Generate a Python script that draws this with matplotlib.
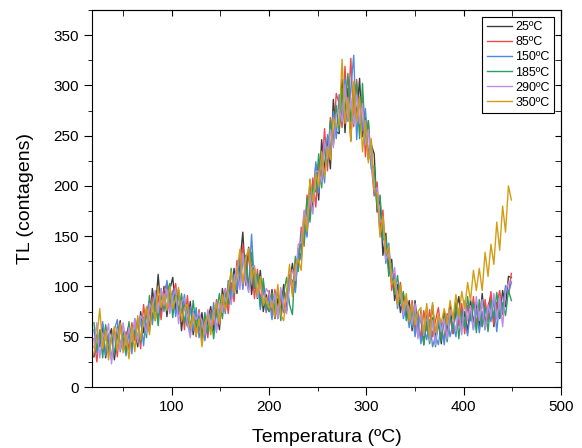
import numpy as np
import matplotlib
matplotlib.use("Agg")
import matplotlib.pyplot as plt
from matplotlib.ticker import MultipleLocator

plt.rcParams['font.family'] = ['Liberation Sans', 'DejaVu Sans']

# temperature axis (3 C steps, 20..449)
temperatura = np.arange(20, 450, 3)

labels = ["25ºC", "85ºC", "150ºC", "185ºC", "290ºC", "350ºC"]
colors = ["#3c3c3c", "#f04848", "#5089e2", "#2a9e5c", "#bb8cea", "#d49c12"]

tl_25 = [30, 52, 40, 62, 29, 48, 58, 27, 51, 66, 37, 50,
         62, 39, 56, 40, 75, 54, 75, 55, 98, 75, 112, 73,
         100, 70, 97, 109, 77, 96, 56, 85, 61, 85, 52, 71,
         56, 74, 49, 66, 80, 56, 77, 57, 98, 78, 101, 85,
         118, 93, 124, 154, 104, 139, 92, 118, 88, 116, 75, 92,
         75, 97, 68, 88, 75, 102, 76, 103, 123, 97, 136, 129,
         173, 152, 206, 178, 221, 186, 246, 215, 248, 217, 286, 254,
         252, 306, 253, 297, 245, 302, 267, 307, 249, 268, 226, 241,
         232, 174, 188, 131, 153, 116, 127, 86, 102, 74, 92, 70,
         86, 56, 86, 57, 70, 42, 77, 55, 82, 48, 64, 43,
         75, 55, 83, 53, 76, 90, 58, 75, 54, 87, 63, 84,
         60, 93, 63, 79, 92, 60, 84, 68, 96, 80, 110, 109]
tl_85 = [48, 25, 57, 36, 60, 33, 48, 55, 30, 64, 40, 55,
         37, 64, 46, 65, 38, 82, 57, 74, 89, 66, 91, 67,
         96, 103, 76, 93, 103, 72, 90, 57, 91, 59, 75, 50,
         77, 52, 69, 49, 76, 62, 87, 62, 83, 98, 73, 104,
         85, 126, 101, 142, 101, 134, 119, 88, 117, 86, 103, 74,
         96, 74, 97, 68, 90, 74, 94, 112, 93, 127, 118, 159,
         140, 191, 170, 208, 179, 223, 210, 257, 215, 268, 241, 292,
         282, 258, 319, 270, 327, 259, 306, 256, 288, 229, 265, 223,
         190, 204, 158, 176, 129, 137, 96, 113, 84, 104, 77, 88,
         65, 86, 56, 74, 46, 76, 56, 77, 50, 66, 79, 53,
         49, 73, 68, 54, 84, 61, 83, 53, 81, 66, 90, 62,
         81, 60, 87, 65, 95, 62, 82, 96, 72, 98, 93, 113]
tl_150 = [57, 34, 48, 65, 31, 53, 27, 57, 67, 35, 49, 31,
          55, 33, 68, 47, 69, 41, 74, 86, 62, 84, 67, 98,
          75, 106, 82, 96, 70, 93, 73, 92, 60, 80, 56, 79,
          49, 67, 46, 74, 56, 84, 57, 76, 90, 73, 106, 88,
          112, 96, 130, 97, 122, 100, 152, 100, 111, 77, 98, 76,
          90, 67, 91, 71, 94, 78, 76, 109, 106, 94, 138, 126,
          164, 149, 194, 184, 224, 193, 228, 203, 251, 235, 274, 247,
          291, 267, 307, 264, 297, 330, 246, 289, 255, 277, 232, 244,
          193, 195, 152, 164, 123, 143, 105, 110, 78, 98, 68, 81,
          59, 77, 50, 70, 43, 60, 47, 67, 40, 51, 42, 64,
          42, 69, 50, 63, 50, 78, 58, 68, 51, 75, 57, 78,
          54, 75, 57, 79, 65, 87, 55, 87, 75, 101, 93, 104]
tl_185 = [64, 37, 56, 29, 62, 36, 51, 32, 60, 41, 56, 34,
          65, 40, 54, 68, 44, 69, 49, 91, 68, 90, 61, 93,
          78, 94, 103, 69, 97, 75, 93, 64, 78, 54, 86, 59,
          71, 46, 74, 54, 74, 48, 75, 93, 68, 94, 82, 118,
          91, 120, 105, 124, 131, 97, 134, 98, 113, 80, 108, 80,
          75, 94, 75, 98, 66, 93, 109, 82, 72, 130, 115, 153,
          143, 188, 164, 199, 194, 232, 198, 239, 224, 265, 241, 280,
          255, 297, 271, 312, 264, 289, 303, 247, 302, 244, 265, 217,
          220, 177, 191, 146, 150, 110, 123, 92, 111, 83, 95, 66,
          80, 59, 77, 51, 76, 42, 65, 43, 69, 40, 66, 46,
          71, 45, 71, 57, 83, 48, 76, 59, 90, 66, 84, 54,
          87, 60, 81, 55, 86, 69, 94, 69, 84, 71, 96, 86]
tl_290 = [39, 64, 29, 53, 46, 63, 23, 51, 58, 37, 64, 42,
          59, 45, 68, 44, 71, 66, 53, 83, 77, 96, 74, 97,
          81, 97, 73, 90, 97, 63, 85, 88, 64, 49, 74, 67,
          74, 65, 52, 77, 61, 75, 54, 84, 74, 97, 94, 82,
          106, 120, 97, 133, 107, 94, 119, 121, 89, 101, 84, 98,
          93, 79, 93, 68, 99, 78, 73, 103, 117, 106, 142, 144,
          176, 161, 191, 172, 215, 214, 204, 245, 227, 256, 238, 271,
          276, 264, 301, 267, 288, 262, 291, 262, 282, 241, 256, 226,
          196, 198, 164, 167, 126, 134, 108, 119, 87, 95, 71, 87,
          77, 62, 83, 48, 73, 51, 80, 46, 66, 42, 72, 55,
          68, 48, 77, 69, 56, 78, 52, 86, 66, 81, 57, 90,
          66, 87, 57, 82, 71, 93, 67, 90, 60, 95, 104, 105]
tl_350 = [33, 49, 78, 38, 56, 27, 48, 60, 36, 63, 34, 52,
          28, 60, 35, 71, 47, 66, 80, 52, 83, 66, 100, 79,
          93, 76, 100, 78, 88, 99, 65, 79, 82, 58, 71, 51,
          68, 40, 64, 71, 52, 72, 84, 63, 92, 76, 97, 115,
          94, 114, 137, 103, 128, 138, 107, 118, 92, 110, 81, 89,
          78, 85, 69, 102, 72, 66, 94, 122, 90, 121, 127, 116,
          170, 155, 207, 184, 212, 199, 234, 209, 239, 226, 268, 259,
          261, 326, 262, 288, 244, 304, 264, 289, 234, 265, 223, 247,
          196, 192, 149, 170, 132, 140, 102, 107, 81, 101, 77, 93,
          65, 83, 62, 75, 79, 54, 83, 49, 84, 54, 72, 64,
          78, 62, 86, 68, 92, 70, 95, 78, 104, 86, 116, 96,
          118, 96, 134, 110, 142, 122, 164, 136, 180, 154, 200, 186]

series = [tl_25, tl_85, tl_150, tl_185, tl_290, tl_350]

fig = plt.figure(figsize=(5.82, 4.48), dpi=100)
ax = fig.add_axes([92 / 582, 1 - 387 / 448, (561 - 92) / 582, (387 - 10) / 448])

for y, lab, c in zip(series, labels, colors):
    ax.plot(temperatura, y, color=c, lw=1.0, label=lab)

ax.set_xlim(18, 500)
ax.set_ylim(0, 375)
ax.xaxis.set_major_locator(MultipleLocator(100))
ax.xaxis.set_minor_locator(MultipleLocator(50))
ax.yaxis.set_major_locator(MultipleLocator(50))
ax.yaxis.set_minor_locator(MultipleLocator(25))
ax.tick_params(which='both', direction='out', top=False, right=False, labelsize=11)
ax.tick_params(which='major', length=5.8)
ax.tick_params(which='minor', length=3)

# inward ticks on top and right, no labels
sec_x = ax.secondary_xaxis('top')
sec_x.xaxis.set_major_locator(MultipleLocator(100))
sec_x.xaxis.set_minor_locator(MultipleLocator(50))
sec_x.tick_params(which='both', direction='in', labeltop=False, length=4)
sec_y = ax.secondary_yaxis('right')
sec_y.yaxis.set_major_locator(MultipleLocator(50))
sec_y.yaxis.set_minor_locator(MultipleLocator(25))
sec_y.tick_params(which='both', direction='in', labelright=False, length=4)

ax.set_xlabel("Temperatura (ºC)", fontsize=14, labelpad=11)
ax.set_ylabel("TL (contagens)", fontsize=14, labelpad=14)

leg = ax.legend(loc='upper right', fontsize=9, frameon=True, fancybox=False,
                edgecolor='black', framealpha=1, handlelength=2.0, handletextpad=0.3,
                labelspacing=0.25, borderpad=0.35, borderaxespad=0.55)
leg.get_frame().set_linewidth(0.8)

fig.savefig("out.png", dpi=100)
